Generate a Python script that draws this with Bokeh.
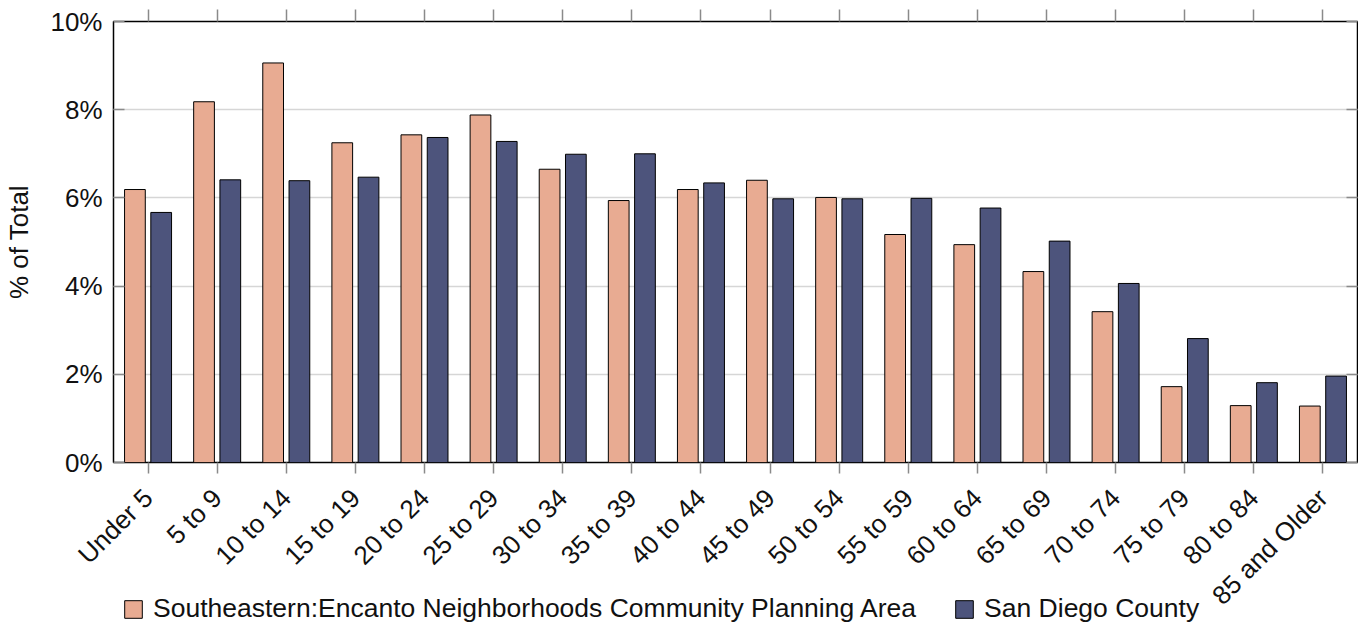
import math
from bokeh.plotting import figure
from bokeh.layouts import column
from bokeh.models import (FactorRange, Range1d, FixedTicker, PrintfTickFormatter, CustomJSTickFormatter,
                          LinearAxis, CategoricalAxis, Legend, LegendItem, ColumnDataSource)
from bokeh.transform import dodge
from bokeh.embed import file_html
from bokeh.resources import INLINE

age_groups = ["Under 5", "5 to 9", "10 to 14", "15 to 19", "20 to 24", "25 to 29",
              "30 to 34", "35 to 39", "40 to 44", "45 to 49", "50 to 54", "55 to 59",
              "60 to 64", "65 to 69", "70 to 74", "75 to 79", "80 to 84", "85 and Older"]
southeastern = [6.19, 8.18, 9.06, 7.25, 7.43, 7.88, 6.65, 5.94, 6.19, 6.40, 6.01, 5.17,
                4.94, 4.33, 3.42, 1.72, 1.29, 1.28]
san_diego = [5.67, 6.41, 6.39, 6.47, 7.37, 7.28, 6.99, 7.00, 6.34, 5.98, 5.98, 5.99,
             5.77, 5.02, 4.06, 2.81, 1.81, 1.96]
series_names = ["Southeastern:Encanto Neighborhoods Community Planning Area", "San Diego County"]
y_ticks = [0, 2, 4, 6, 8, 10]

FONT = "Liberation Sans"
FS = "26px"
SALMON = "#E8AB92"
NAVY = "#4D547C"
TICK = "#8a8a8a"

src = ColumnDataSource(dict(age=age_groups, se=southeastern, sd=san_diego))

W = 1358
p = figure(x_range=FactorRange(factors=age_groups, range_padding=0),
           y_range=Range1d(0, 10),
           width=W, height=624, output_backend="svg", toolbar_location=None,
           min_border_left=113, min_border_right=1, min_border_top=21, min_border_bottom=162)

p.vbar(x=dodge("age", -0.19, range=p.x_range), top="se", width=0.30, source=src,
       fill_color=SALMON, line_color="black", line_width=1)
p.vbar(x=dodge("age", 0.19, range=p.x_range), top="sd", width=0.30, source=src,
       fill_color=NAVY, line_color="black", line_width=1)

p.outline_line_color = "black"
p.outline_line_width = 1.5
p.xgrid.grid_line_color = None
p.ygrid.grid_line_color = "#d6d6d6"
p.ygrid.grid_line_width = 1.5
p.ygrid.ticker = FixedTicker(ticks=y_ticks)

# left axis
ya = p.yaxis[0]
ya.ticker = FixedTicker(ticks=y_ticks)
ya.formatter = PrintfTickFormatter(format="%d%%")
ya.axis_line_color = None
ya.major_tick_in = 11
ya.major_tick_out = 0
ya.major_tick_line_color = TICK
ya.major_tick_line_width = 1.5
ya.minor_tick_line_color = None
ya.major_label_standoff = 11
ya.major_label_text_font = FONT
ya.major_label_text_font_size = FS
ya.major_label_text_color = "#111111"
ya.axis_label = "% of Total"
ya.axis_label_text_font = FONT
ya.axis_label_text_font_size = FS
ya.axis_label_text_font_style = "normal"
ya.axis_label_text_color = "#111111"
ya.axis_label_standoff = 13

# bottom axis
xa = p.xaxis[0]
xa.axis_line_color = None
xa.major_tick_in = 0
xa.major_tick_out = 11
xa.major_tick_line_color = TICK
xa.major_tick_line_width = 1.5
xa.major_label_orientation = math.pi / 4
xa.major_label_standoff = 20
xa.major_label_text_font = FONT
xa.major_label_text_font_size = FS
xa.major_label_text_color = "#111111"

blank = CustomJSTickFormatter(code="return ''")

# top axis (ticks only)
ta = CategoricalAxis(formatter=blank)
ta.axis_line_color = None
ta.major_tick_in = 0
ta.major_tick_out = 12
ta.major_tick_line_color = TICK
ta.major_tick_line_width = 1.5
ta.major_label_standoff = 0
p.add_layout(ta, "above")

# right axis (ticks only)
ra = LinearAxis(ticker=FixedTicker(ticks=y_ticks), formatter=blank)
ra.axis_line_color = None
ra.major_tick_in = 11
ra.major_tick_out = 0
ra.major_tick_line_color = TICK
ra.major_tick_line_width = 1.5
ra.minor_tick_line_color = None
ra.major_label_standoff = 0
p.add_layout(ra, "right")

# legend strip, overlapping the bottom of the chart (transparent)
LH = 40
lf = figure(x_range=FactorRange(factors=age_groups), y_range=Range1d(100, 101),
            width=W, height=LH, output_backend="svg", toolbar_location=None,
            x_axis_location=None, y_axis_location=None, min_border=0,
            margin=(-LH, 0, 0, 0))
lf.grid.visible = False
lf.outline_line_color = None
lf.background_fill_alpha = 0
lf.border_fill_alpha = 0
l1 = lf.vbar(x=dodge("age", -0.19, range=lf.x_range), top="se", width=0.30, source=src,
             fill_color=SALMON, line_color="black", line_width=1)
l2 = lf.vbar(x=dodge("age", 0.19, range=lf.x_range), top="sd", width=0.30, source=src,
             fill_color=NAVY, line_color="black", line_width=1)

legend = Legend(items=[LegendItem(label=series_names[0], renderers=[l1]),
                       LegendItem(label=series_names[1], renderers=[l2])],
                orientation="horizontal", location=(9, 0),
                glyph_width=22, glyph_height=22, label_standoff=9, spacing=37,
                padding=0, margin=0,
                label_text_font=FONT, label_text_font_size="26.5px", label_text_color="#111111",
                border_line_alpha=0, background_fill_alpha=0)
lf.add_layout(legend)

open("out.html", "w").write(file_html(column(p, lf), INLINE))
